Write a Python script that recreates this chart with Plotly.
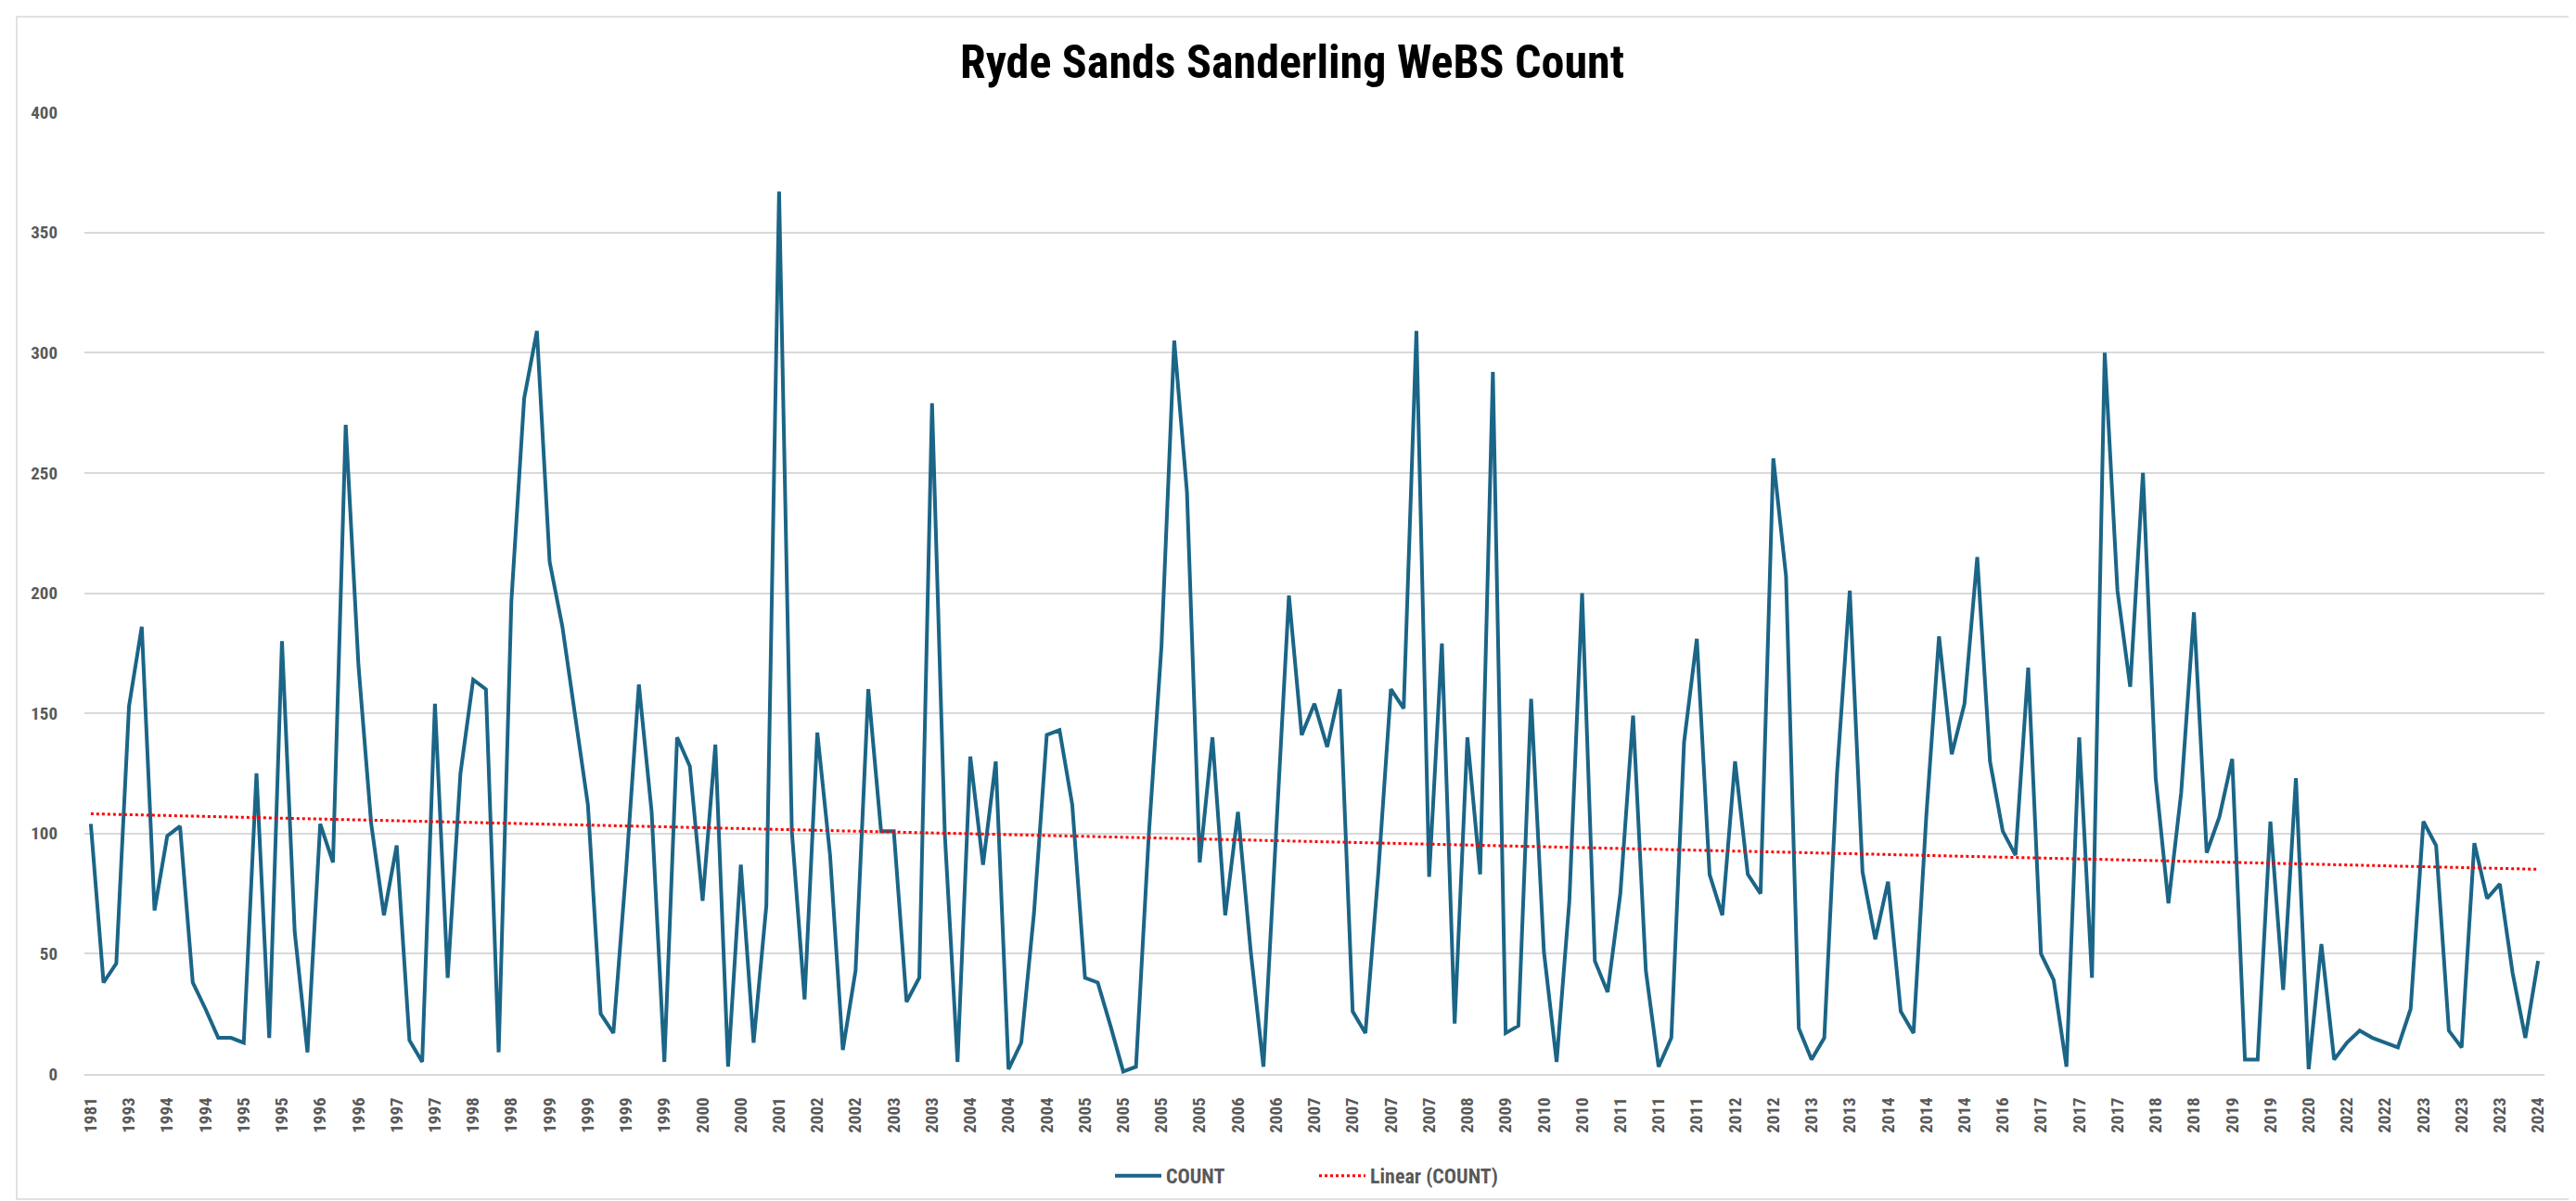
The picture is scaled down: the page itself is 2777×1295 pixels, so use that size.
import numpy as np
import plotly.graph_objects as go

# Count values, one per survey (193 points)
counts = [
    104, 38, 46, 153, 186, 68, 99, 103, 38, 27, 15, 15, 13, 125, 15, 180, 59, 9, 104, 88,
    270, 170, 104, 66, 95, 14, 5, 154, 40, 125, 164, 160, 9, 197, 281, 309, 213, 186, 149, 112,
    25, 17, 85, 162, 109, 5, 140, 128, 72, 137, 3, 87, 13, 70, 367, 101, 31, 142, 91, 10,
    43, 160, 101, 101, 30, 40, 279, 100, 5, 132, 87, 130, 2, 13, 67, 141, 143, 112, 40, 38,
    20, 1, 3, 99, 178, 305, 242, 88, 140, 66, 109, 51, 3, 99, 199, 141, 154, 136, 160, 26,
    17, 83, 160, 152, 309, 82, 179, 21, 140, 83, 292, 17, 20, 156, 51, 5, 72, 200, 47, 34,
    75, 149, 43, 3, 15, 138, 181, 83, 66, 130, 83, 75, 256, 207, 19, 6, 15, 125, 201, 84,
    56, 80, 26, 17, 107, 182, 133, 154, 215, 130, 101, 91, 169, 50, 39, 3, 140, 40, 300, 201,
    161, 250, 123, 71, 117, 192, 92, 107, 131, 6, 6, 105, 35, 123, 2, 54, 6, 13, 18, 15,
    13, 11, 27, 105, 95, 18, 11, 96, 73, 79, 42, 15, 47,
]

# Category-axis labels shown (every third survey)
tick_labels = [
    "1981", "1993", "1994", "1994", "1995", "1995", "1996", "1996", "1997", "1997",
    "1998", "1998", "1999", "1999", "1999", "1999", "2000", "2000", "2001", "2002",
    "2002", "2003", "2003", "2004", "2004", "2004", "2005", "2005", "2005", "2005",
    "2006", "2006", "2007", "2007", "2007", "2007", "2008", "2009", "2010", "2010",
    "2011", "2011", "2011", "2012", "2012", "2013", "2013", "2014", "2014", "2014",
    "2016", "2017", "2017", "2017", "2018", "2018", "2019", "2019", "2020", "2022",
    "2022", "2023", "2023", "2023", "2024",
]
label_step = 3

y_ticks = [0, 50, 100, 150, 200, 250, 300, 350, 400]

idx = np.arange(len(counts))
slope, intercept = np.polyfit(idx + 1, counts, 1)
trend = slope * (idx + 1) + intercept

W, H = 2777, 1295
ml, mr, mt, mb = 83, 42, 113, 145
pw, ph = W - ml - mr, H - mt - mb

fig = go.Figure()
fig.add_trace(go.Scatter(
    x=idx, y=counts, mode="lines", name="COUNT",
    line=dict(color="#1b6587", width=4),
))
fig.add_trace(go.Scatter(
    x=idx, y=trend, mode="lines", name="Linear (COUNT)",
    line=dict(color="#ff0000", width=3, dash="dot"),
))

narrow = "Liberation Sans Narrow, Arial Narrow, Roboto Condensed, sans-serif"
tick_font = dict(family=narrow, size=19, color="#595959", weight="bold")

fig.update_layout(
    width=W, height=H,
    margin=dict(l=ml, r=mr, t=mt, b=mb),
    paper_bgcolor="white", plot_bgcolor="white",
    title=dict(
        text="<b>Ryde Sands Sanderling WeBS Count</b>",
        x=(1385 - ml) / pw, xref="paper", xanchor="center",
        y=1 - 58 / H, yref="container", yanchor="middle",
        font=dict(family=narrow, size=50, color="#000000"),
    ),
    showlegend=True,
    legend=dict(
        orientation="h", x=0.5, xanchor="center", y=-(1260 - (H - mb)) / ph, yanchor="middle",
        font=dict(family=narrow, size=22, color="#595959", weight="bold"),
        itemwidth=50, tracegroupgap=0,
        entrywidth=155, entrywidthmode="pixels",
    ),
    xaxis=dict(
        range=[-0.5, len(counts) - 0.5],
        tickmode="array",
        tickvals=[i * label_step for i in range(len(tick_labels))],
        ticktext=tick_labels,
        tickangle=-90,
        tickfont=tick_font,
        showgrid=False, zeroline=False,
        showline=True, linecolor="#d9d9d9", linewidth=1.5,
        ticks="", ticklabelstandoff=16,
    ),
    yaxis=dict(
        range=[0, 400],
        tickmode="array", tickvals=y_ticks,
        tickfont=tick_font,
        showgrid=True, gridcolor="#d9d9d9", gridwidth=1.5,
        zeroline=False, showline=False, ticks="",
        ticklabelstandoff=28,
    ),
    shapes=[dict(
        type="rect", xref="paper", yref="paper",
        x0=(10 - ml) / pw, x1=(W - 10 - ml) / pw,
        y0=-(H - 10 - (H - mb)) / ph, y1=(H - mb - 10) / ph,
        line=dict(color="#d9d9d9", width=1.5), fillcolor="rgba(0,0,0,0)", layer="below",
    )],
)

fig.write_html("out.html")
